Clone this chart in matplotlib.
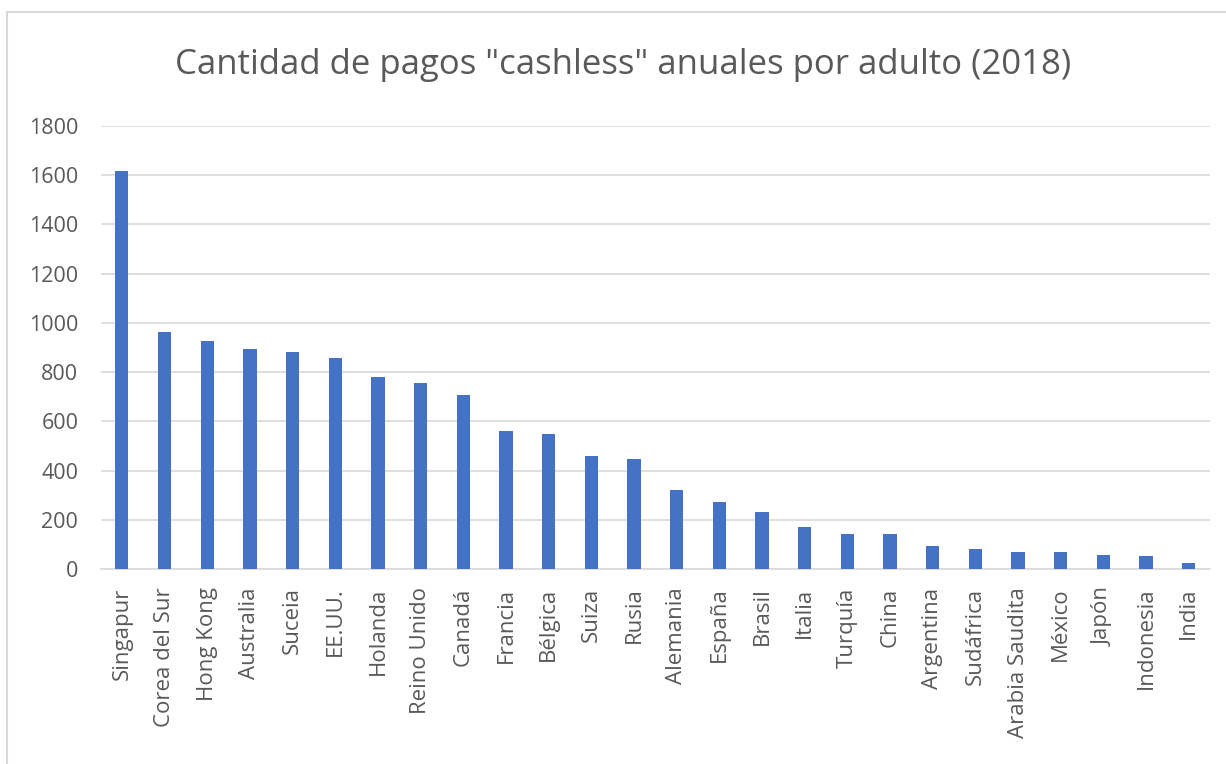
import numpy as np
import matplotlib.pyplot as plt
from matplotlib.patches import Rectangle

paises = ['Singapur', 'Corea del Sur', 'Hong Kong', 'Australia', 'Suceia',
          'EE.UU.', 'Holanda', 'Reino Unido', 'Canadá', 'Francia', 'Bélgica',
          'Suiza', 'Rusia', 'Alemania', 'España', 'Brasil', 'Italia',
          'Turquía', 'China', 'Argentina', 'Sudáfrica', 'Arabia Saudita',
          'México', 'Japón', 'Indonesia', 'India']
pagos = [1615, 961, 927, 892, 880, 856, 779, 755, 707, 561, 549, 461, 449,
         322, 274, 232, 173, 143, 143, 96, 82, 69, 69, 59, 53, 24]
yticks = [0, 200, 400, 600, 800, 1000, 1200, 1400, 1600, 1800]

plt.rcParams['font.family'] = ['Open Sans', 'DejaVu Sans']

fig = plt.figure(figsize=(12.26, 7.64), dpi=100)
ax = fig.add_axes([0.082, 0.2548, 0.905, 0.5807])

x = np.arange(len(paises))
ax.bar(x, pagos, width=0.31, color='#4472C4', zorder=3)

ax.set_xlim(-0.5, len(paises) - 0.5)
ax.set_ylim(0, 1800)
ax.set_yticks(yticks)
ax.set_yticklabels([str(v) for v in yticks], fontsize=15.5, color='#595959')
ax.set_xticks(x)
ax.set_xticklabels(paises, rotation=90, fontsize=16, color='#595959')
ax.tick_params(axis='both', length=0)
ax.tick_params(axis='y', pad=16)
ax.tick_params(axis='x', pad=13)
ax.grid(axis='y', color='#d9d9d9', linewidth=1.2, zorder=0)
for s in ['top', 'right', 'left']:
    ax.spines[s].set_visible(False)
ax.spines['bottom'].set_color('#d9d9d9')
ax.spines['bottom'].set_linewidth(1.2)

fig.text(0.508, 0.915, 'Cantidad de pagos "cashless" anuales por adulto (2018)',
         ha='center', va='center', fontsize=25, color='#595959')

# borde del grafico (derecha y abajo quedan fuera de la imagen)
fig.patches.append(Rectangle((7 / 1226, -0.05), 1.2, 1 - 12 / 764 + 0.05,
                             transform=fig.transFigure, fill=False,
                             edgecolor='#d9d9d9', linewidth=1.5))

fig.savefig('out.png', dpi=100)
